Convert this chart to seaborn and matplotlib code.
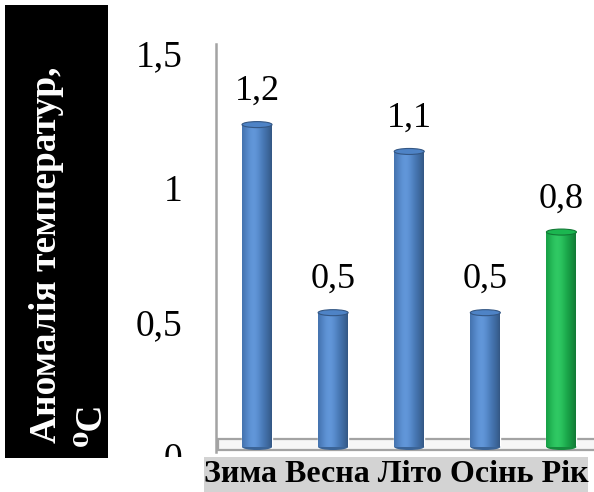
import numpy as np
import pandas as pd
import matplotlib
matplotlib.use("Agg")
import matplotlib.pyplot as plt
import seaborn as sns
from matplotlib.patches import Rectangle, Ellipse
from matplotlib.colors import to_rgb
from matplotlib.transforms import ScaledTranslation, blended_transform_factory

# Seasonal temperature anomalies
seasons = ["Зима", "Весна", "Літо", "Осінь", "Рік"]
anomaly = [1.2, 0.5, 1.1, 0.5, 0.8]
bar_colors = ["#4a7dbd", "#4a7dbd", "#4a7dbd", "#4a7dbd", "#1aad4c"]
ytick_values = [0, 0.5, 1, 1.5]
ytick_labels = ["0", "0,5", "1", "1,5"]
ylabel_line1 = "Аномалія температур,"
ylabel_line2 = "⁰С"

sns.set_theme(style="white")
plt.rcParams["font.family"] = ["Liberation Serif", "DejaVu Serif"]

W, H = 594, 492
fig = plt.figure(figsize=(W / 100, H / 100), dpi=100)
fig.patch.set_facecolor("white")

ax = fig.add_axes([216 / W, 1 - 452 / H, 1 - 216 / W, (452 - 44) / H])
ax.set_facecolor("none")

df = pd.DataFrame({"season": seasons, "anomaly": anomaly})
sns.barplot(data=df, x="season", y="anomaly", hue="season", palette=bar_colors,
            legend=False, width=0.394, saturation=1, ax=ax, zorder=3)

ax.set_xlim(-0.539, 4.428)
ax.set_ylim(-0.0186, 1.5)

# floor of the plot
ftrans = blended_transform_factory(ax.transAxes, ax.transData)
ax.add_patch(Rectangle((0.004, -0.011), 1.2, 0.041, transform=ftrans,
                       facecolor="#f6f6f6", edgecolor="#a3a3a3", lw=1.6,
                       zorder=1, clip_on=False))

# cylinder shading for each bar
cap_h = 6 / 268.6
t = np.linspace(0, 1, 64)
s = np.clip(1 - ((t - 0.38) / 0.62) ** 2, 0, 1)
for patch in list(ax.patches):
    if not hasattr(patch, "get_width") or patch.get_zorder() != 3:
        continue
    x0 = patch.get_x()
    w = patch.get_width()
    h = patch.get_height()
    base = np.array(to_rgb(patch.get_facecolor()))
    grad = base[None, :] * (0.70 + 0.34 * s[:, None]) + 0.08 * (s[:, None] ** 6)
    grad = np.clip(grad, 0, 1)[None, :, :]
    im = ax.imshow(grad, extent=(x0, x0 + w, 0, h), aspect="auto",
                   interpolation="bilinear", zorder=3.5)
    im.set_clip_path(patch)
    cx = x0 + w / 2
    ax.add_patch(Ellipse((cx, 0), w, cap_h, facecolor=np.clip(base * 0.8, 0, 1),
                         edgecolor="none", zorder=3.4))
    ax.add_patch(Ellipse((cx, h), w, cap_h, facecolor=np.clip(base * 1.05, 0, 1),
                         edgecolor=np.clip(base * 0.7, 0, 1), lw=0.8, zorder=3.6))

# value labels above bars
for cont in ax.containers:
    vals = cont.datavalues
    ax.bar_label(cont, labels=[f"{v:.1f}".replace(".", ",") for v in vals],
                 padding=12, fontsize=26, color="black", zorder=5)

# axes styling
for side in ["top", "right", "bottom"]:
    ax.spines[side].set_visible(False)
ax.spines["left"].set_color("#a3a3a3")
ax.spines["left"].set_linewidth(1.8)
ax.set_xticks([])
ax.set_xlabel("")
ax.set_ylabel("")
ax.set_yticks(ytick_values, ytick_labels)
ax.tick_params(axis="y", length=0, pad=24, labelsize=27, labelcolor="black")
off = ScaledTranslation(0, -9 / 100, fig.dpi_scale_trans)
for lab in ax.get_yticklabels():
    lab.set_transform(lab.get_transform() + off)

# blank strip under the title box
fig.add_artist(Rectangle((0, 0), 204 / W, (H - 457) / H,
                         transform=fig.transFigure, facecolor="white",
                         edgecolor="none", zorder=10))

# category band under the floor
fig.add_artist(Rectangle((204 / W, 0), (588 - 204) / W, (H - 457) / H,
                         transform=fig.transFigure, facecolor="#d3d3d3",
                         edgecolor="none", zorder=10))
fig.text(396 / W, 1 - 475 / H, " ".join(seasons), ha="center", va="center",
         fontsize=23, fontweight="bold", color="black", zorder=11)

# y-axis title box
fig.add_artist(Rectangle((5 / W, 1 - 458 / H), 103 / W, 453 / H,
                         transform=fig.transFigure, facecolor="black",
                         edgecolor="none", zorder=10))
fig.text(56 / W, 1 - 443 / H, ylabel_line1, rotation=90, rotation_mode="anchor",
         ha="left", va="baseline", color="white", fontsize=27,
         fontweight="bold", zorder=11)
fig.text(101 / W, 1 - 446 / H, ylabel_line2, rotation=90, rotation_mode="anchor",
         ha="left", va="baseline", color="white", fontsize=27,
         fontweight="bold", zorder=11)

fig.savefig("out.png", dpi=100)
